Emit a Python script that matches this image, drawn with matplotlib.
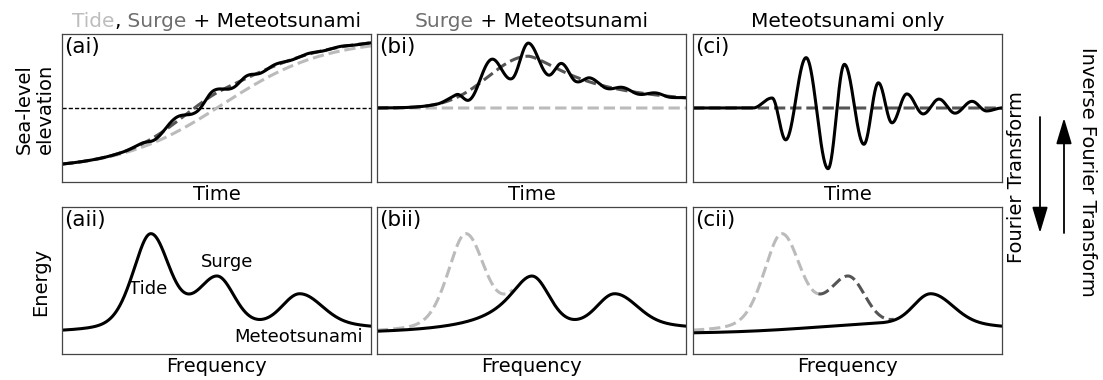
import numpy as np
import matplotlib
matplotlib.use("Agg")
import matplotlib.pyplot as plt
from matplotlib.patches import FancyArrowPatch
from matplotlib.offsetbox import TextArea, HPacker, AnchoredOffsetbox

plt.rcParams["font.family"] = ["DejaVu Sans"]

# ------------------------------------------------------------------ data
# Time-domain components (normalised time 0..1, normalised elevation)
tide_shape = [0.05, 0.88, 0.52, 0.33]          # mean level, half range, mid-time, rise time
surge_shape = [0.49, 0.70, 0.13, 0.20, 1.5]    # peak time, peak height, rise width, decay width, decay exponent
meteo_times = [0.194, 0.256, 0.300, 0.366, 0.437, 0.490, 0.553, 0.600,
               0.644, 0.692, 0.745, 0.796, 0.848, 0.903, 0.950, 1.000]
meteo_levels = [0.0, 0.135, -0.43, 0.68, -0.82, 0.59, -0.49, 0.34,
                -0.20, 0.19, -0.08, 0.12, -0.07, 0.09, -0.04, 0.0]
surge_scale_full = 0.30    # surge+meteotsunami amplitude relative to the tide panel
meteo_scale_surge = 0.30   # meteotsunami amplitude relative to the surge panel

# Frequency-domain components (normalised frequency 0..1, normalised energy)
floor_shape = [0.14, 0.075, 0.72, 0.30]        # base, hump height, hump centre, hump width
peak_names = ["Tide", "Surge", "Meteotsunami"]
peak_centres = [0.285, 0.500, 0.770]
peak_heights = [0.600, 0.333, 0.196]
peak_left_widths = [0.058, 0.092, 0.054]
peak_right_widths = [0.057, 0.054, 0.070]
peak_left_lorentz = [0.3, 1.0, 0.0]
peak_right_lorentz = [0.0, 0.0, 0.0]

col_titles = [
    [("Tide", "#bdbdbd"), (",", "black"), (" Surge", "#6e6e6e"), (" + Meteotsunami", "black")],
    [("Surge", "#6e6e6e"), (" + Meteotsunami", "black")],
    [("Meteotsunami only", "black")],
]
top_tags = ["(ai)", "(bi)", "(ci)"]
bottom_tags = ["(aii)", "(bii)", "(cii)"]

LIGHT = "#bbbbbb"
DARK = "#555555"

# ------------------------------------------------------------------ curves
t = np.linspace(0, 1, 1500)


def tide_curve(x):
    lvl, half, mid, rise = tide_shape
    return lvl + half * np.tanh((x - mid) / rise)


def surge_curve(x):
    tp, h, wl, wr, p = surge_shape
    d = x - tp
    left = h * np.exp(-0.5 * (d / wl) ** 2)
    right = h / (1 + np.abs(d / wr) ** p)
    return np.where(d < 0, left, right)


def meteo_curve(x):
    out = np.full_like(x, meteo_levels[0])
    for t0, t1, v0, v1 in zip(meteo_times[:-1], meteo_times[1:],
                              meteo_levels[:-1], meteo_levels[1:]):
        m = (x >= t0) & (x <= t1)
        s = (x[m] - t0) / (t1 - t0)
        out[m] = v0 + (v1 - v0) * (1 - np.cos(np.pi * s)) / 2
    out[x > meteo_times[-1]] = meteo_levels[-1]
    return out


tide = tide_curve(t)
surge = surge_curve(t)
meteo = meteo_curve(t)

surge_meteo = surge + meteo_scale_surge * meteo
full_series = tide + surge_scale_full * surge_meteo
tide_surge = tide + surge_scale_full * surge

f = np.linspace(0, 1, 1500)


def spec_floor(x):
    base, hump, c, w = floor_shape
    return base + hump * np.exp(-0.5 * ((x - c) / w) ** 2)


def spec_peak(x, i):
    d = x - peak_centres[i]
    w = np.where(d < 0, peak_left_widths[i], peak_right_widths[i])
    eta = np.where(d < 0, peak_left_lorentz[i], peak_right_lorentz[i])
    z = d / w
    return peak_heights[i] * ((1 - eta) * np.exp(-0.5 * z ** 2) + eta / (1 + z ** 2))


fl = spec_floor(f)
p_tide, p_surge, p_meteo = (spec_peak(f, i) for i in range(3))
spec_full = fl + p_tide + p_surge + p_meteo
spec_no_tide = fl + p_surge + p_meteo
spec_meteo = fl + p_meteo

# ------------------------------------------------------------------ figure
W, H = 1103, 380
fig = plt.figure(figsize=(W / 100, H / 100), dpi=100)

col_left = [62, 377, 693]
col_w = 309
top_row = (34, 182)
bot_row = (207, 354)


def make_ax(x0, row):
    y0, y1 = row
    return fig.add_axes([x0 / W, 1 - y1 / H, col_w / W, (y1 - y0) / H])


axes_top = [make_ax(x, top_row) for x in col_left]
axes_bot = [make_ax(x, bot_row) for x in col_left]

for ax in axes_top + axes_bot:
    ax.set_xticks([])
    ax.set_yticks([])
    ax.set_xlim(0, 1)
    for s in ax.spines.values():
        s.set_color("#444444")
        s.set_linewidth(0.9)
for ax in axes_top:
    ax.set_ylim(-1, 1)
    ax.set_xlabel("Time", fontsize=14, labelpad=2)
for ax in axes_bot:
    ax.set_ylim(0, 1)
    ax.set_xlabel("Frequency", fontsize=14, labelpad=2)

for ax, tag in zip(axes_top, top_tags):
    ax.text(0.006, 0.98, tag, transform=ax.transAxes, ha="left", va="top", fontsize=15.5)
for ax, tag in zip(axes_bot, bottom_tags):
    ax.text(0.006, 0.98, tag, transform=ax.transAxes, ha="left", va="top", fontsize=15.5)

# column titles with coloured words
for ax, parts in zip(axes_top, col_titles):
    boxes = [TextArea(s, textprops=dict(color=c, fontsize=14.5)) for s, c in parts]
    pack = HPacker(children=boxes, align="baseline", pad=0, sep=0)
    anc = AnchoredOffsetbox(loc="lower center", child=pack, pad=0, borderpad=0.25,
                            frameon=False, bbox_to_anchor=(0.5, 1.0),
                            bbox_transform=ax.transAxes)
    ax.add_artist(anc)

LW = 2.2
# (ai) tide, surge and meteotsunami
ax = axes_top[0]
ax.axhline(0, color="black", lw=1.0, ls=(0, (3, 1.5)))
ax.plot(t, tide, color=LIGHT, lw=LW, ls="--")
ax.plot(t, tide_surge, color=DARK, lw=LW, ls="--")
ax.plot(t, full_series, color="black", lw=LW)

# (bi) surge and meteotsunami
ax = axes_top[1]
ax.plot(t, np.zeros_like(t), color=LIGHT, lw=LW, ls="--")
ax.plot(t, surge, color=DARK, lw=LW, ls="--")
ax.plot(t, surge_meteo, color="black", lw=LW)

# (ci) meteotsunami only
ax = axes_top[2]
ax.plot(t, np.zeros_like(t), color=DARK, lw=LW, ls="--")
ax.plot(t, meteo, color="black", lw=LW)

# (aii) full spectrum
ax = axes_bot[0]
ax.plot(f, spec_full, color="black", lw=LW)
ax.text(0.278, 0.44, peak_names[0], ha="center", va="center", fontsize=13)
ax.text(0.534, 0.626, peak_names[1], ha="center", va="center", fontsize=13)
ax.text(0.764, 0.116, peak_names[2], ha="center", va="center", fontsize=13)

# (bii) tide removed
ax = axes_bot[1]
m = f <= 0.44
ax.plot(f[m], spec_full[m], color=LIGHT, lw=LW, ls="--")
ax.plot(f, spec_no_tide, color="black", lw=LW)

# (cii) tide and surge removed
ax = axes_bot[2]
m1 = f <= 0.405
m2 = (f >= 0.405) & (f <= 0.65)
ax.plot(f[m1], spec_full[m1], color=LIGHT, lw=LW, ls="--")
ax.plot(f[m2], spec_full[m2], color=DARK, lw=LW, ls="--")
ax.plot(f, spec_meteo, color="black", lw=LW)

# row labels
fig.text(35 / W, 1 - 109 / H, "Sea-level\nelevation", rotation=90, ha="center",
         va="center", fontsize=14, multialignment="center", linespacing=1.15)
fig.text(41 / W, 1 - 282 / H, "Energy", rotation=90, ha="center", va="center", fontsize=14)

# transform arrows on the right
fig.text(1016 / W, 1 - 177 / H, "Fourier Transform", rotation=90, ha="center",
         va="center", fontsize=14)
fig.text(1087 / W, 1 - 172 / H, "Inverse Fourier Transform", rotation=-90, ha="center",
         va="center", fontsize=14)
style = "-|>,head_length=0.8,head_width=0.24"
fig.patches.append(FancyArrowPatch((1040 / W, 1 - 117 / H), (1040 / W, 1 - 233 / H),
                                   transform=fig.transFigure, arrowstyle=style,
                                   mutation_scale=20, lw=1.3, color="black",
                                   shrinkA=0, shrinkB=0))
fig.patches.append(FancyArrowPatch((1064 / W, 1 - 233 / H), (1064 / W, 1 - 118 / H),
                                   transform=fig.transFigure, arrowstyle=style,
                                   mutation_scale=20, lw=1.3, color="black",
                                   shrinkA=0, shrinkB=0))

fig.savefig("out.png", dpi=100)
